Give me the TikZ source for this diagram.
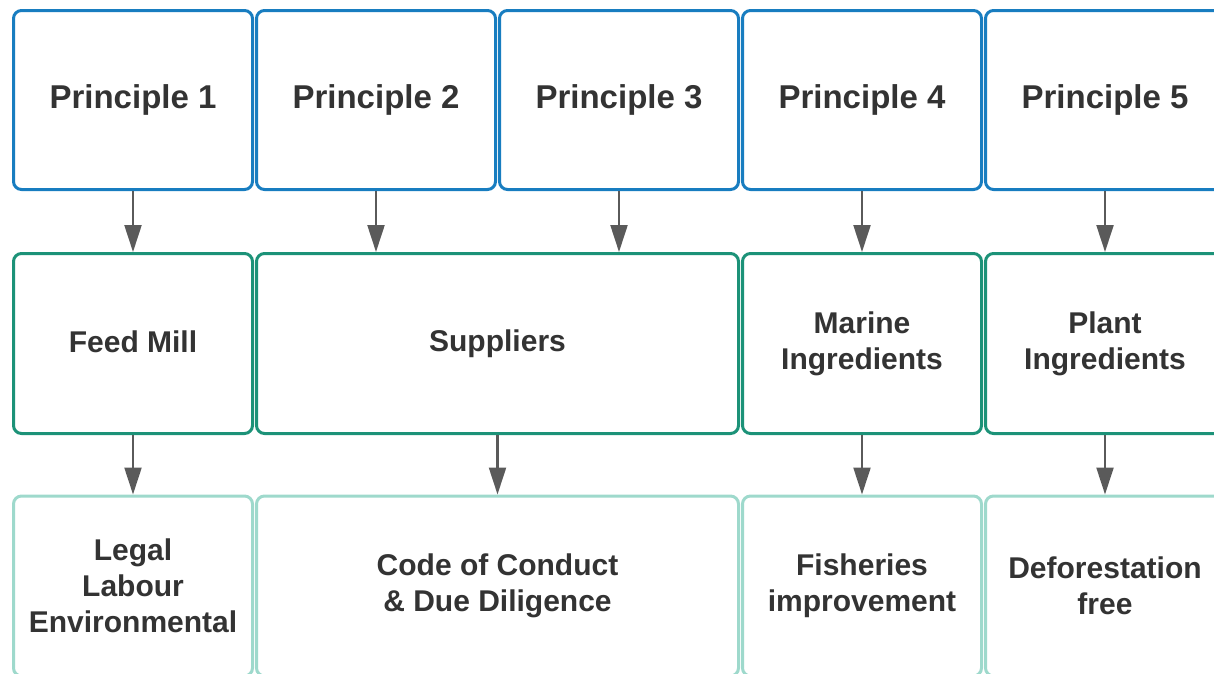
\documentclass[tikz,border=0pt]{standalone}
\usepackage{fontspec}
\usepackage{tikz}
\usetikzlibrary{arrows.meta}
\setmainfont{Liberation Sans}

\definecolor{prinblue}{RGB}{24,125,192}
\definecolor{areagreen}{RGB}{28,146,120}
\definecolor{goallight}{RGB}{158,217,204}
\definecolor{txtgray}{RGB}{51,51,51}
\definecolor{arrgray}{RGB}{90,90,90}

\tikzset{
  box/.style={draw, rounded corners=8pt, line width=3pt, fill=white,
    minimum width=239pt, minimum height=180pt, align=center,
    text=txtgray, font=\bfseries\fontsize{30}{36}\selectfont},
  prin/.style={box, draw=prinblue, minimum height=179pt,
    font=\bfseries\fontsize{33}{38}\selectfont},
  area/.style={box, draw=areagreen},
  goal/.style={box, draw=goallight},
  link/.style={->, draw=arrgray, line width=2.2pt}
}

\begin{document}
\begin{tikzpicture}[x=1pt, y=-1pt, >={Triangle[width=17pt,length=27pt]}]
        \useasboundingbox (0,0) rectangle (1214,673);
        \clip (0,0) rectangle (1214,673);
        % principles
        \node[prin] at (133,100) (p1){Principle 1};
        \node[prin] at (376,100) (p2){Principle 2};
        \node[prin] at (619,100) (p3){Principle 3};
        \node[prin] at (862,100) (p4){Principle 4};
        \node[prin] at (1105,100) (p5){Principle 5};
        % areas
        \node[area] at (133,343.5) (feed){\raisebox{3pt}{Feed Mill}};
        \node[area, minimum width=482pt] at (497.5,343.5) (supp){Suppliers};
        \node[area] at (862,343.5) (marine){Marine\\Ingredients};
        \node[area] at (1105,343.5) (plant){Plant\\Ingredients};
        % goals
        \node[goal] at (133,586) (legal){Legal\\Labour\\Environmental};
        \node[goal, minimum width=482pt] at (497.5,586) (code){Code of Conduct\\\& Due Diligence};
        \node[goal] at (862,586) (fish){Fisheries\\improvement};
        \node[goal] at (1105,586) (defor){Deforestation\\free};
        % links
        \draw[link] (p1) -- (feed);
        \draw[link] (p2.south) -- (p2.south |- supp.north);
        \draw[link] (p3.south) -- (p3.south |- supp.north);
        \draw[link] (p4) -- (marine);
        \draw[link] (p5) -- (plant);
        \draw[link] (feed) -- (legal);
        \draw[link] (supp) -- (code);
        \draw[link] (marine) -- (fish);
        \draw[link] (plant) -- (defor);
      \end{tikzpicture}
\end{document}
